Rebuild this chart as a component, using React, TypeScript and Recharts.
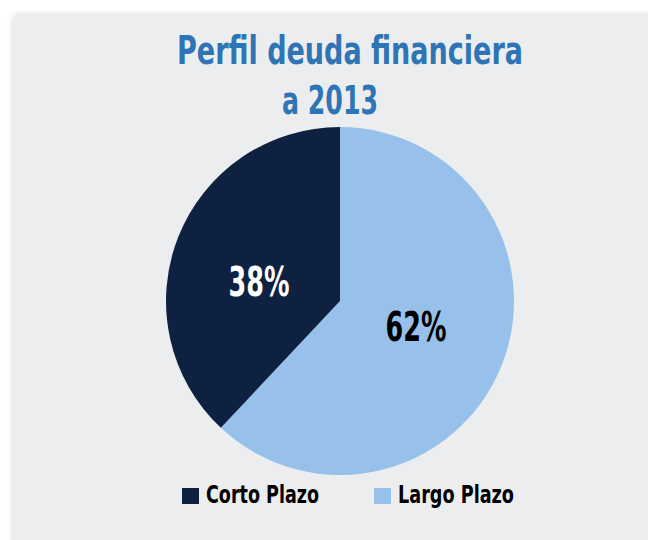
import React from "react";
import { PieChart, Pie, Cell, Legend, Customized } from "recharts";

const categories = ["Largo Plazo", "Corto Plazo"];
const values = [62, 38];
const legendOrder = ["Corto Plazo", "Largo Plazo"];
const titleLines = ["Perfil deuda financiera", "a 2013"];

const COLORS: Record<string, string> = {
  "Largo Plazo": "#97c1ea",
  "Corto Plazo": "#0f2141",
};
const LABEL_COLORS: Record<string, string> = {
  "Largo Plazo": "#000000",
  "Corto Plazo": "#ffffff",
};
const LABEL_NUDGE: Record<string, number> = {
  "Largo Plazo": -5,
  "Corto Plazo": 10,
};

const data = categories.map((name, i) => ({ name, value: values[i] }));

const FONT = "'DejaVu Sans Condensed', 'Liberation Sans Narrow', 'Liberation Sans', sans-serif";
const RAD = Math.PI / 180;

const renderLabel = (props: any) => {
  const { cx, cy, midAngle, outerRadius, index, value } = props;
  const r = outerRadius * 0.47;
  const name = categories[index];
  const x = cx + r * Math.cos(-midAngle * RAD) + (name === "Corto Plazo" ? -5 : 0);
  const y = cy + r * Math.sin(-midAngle * RAD) + LABEL_NUDGE[name];
  return (
    <text
      x={x}
      y={y + 15}
      textAnchor="middle"
      fill={LABEL_COLORS[name]}
      fontFamily={FONT}
      fontWeight="bold"
      fontSize={41}
      textLength={61}
      lengthAdjust="spacingAndGlyphs"
    >
      {`${value}%`}
    </text>
  );
};

const Title = () => (
  <g>
    <text
      x={350}
      y={64}
      textAnchor="middle"
      fill="#2f75b6"
      fontFamily={FONT}
      fontWeight="bold"
      fontSize={39}
      textLength={346}
      lengthAdjust="spacingAndGlyphs"
    >
      {titleLines[0]}
    </text>
    <text
      x={330}
      y={114}
      textAnchor="middle"
      fill="#2f75b6"
      fontFamily={FONT}
      fontWeight="bold"
      fontSize={39}
      textLength={96}
      lengthAdjust="spacingAndGlyphs"
    >
      {titleLines[1]}
    </text>
  </g>
);

const legendX = [182, 374];
const legendTextLen = [113, 116];

const renderLegend = () => (
  <svg width={648} height={40} style={{ display: "block" }}>
    {legendOrder.map((name, i) => (
      <g key={name}>
        <rect x={legendX[i]} y={10} width={17} height={16} fill={COLORS[name]} />
        <text
          x={legendX[i] + 24}
          y={25}
          fill="#000"
          fontFamily={FONT}
          fontWeight="bold"
          fontSize={25}
          textLength={legendTextLen[i]}
          lengthAdjust="spacingAndGlyphs"
        >
          {name}
        </text>
      </g>
    ))}
  </svg>
);

export default function App() {
  return (
    <div
      style={{
        position: "absolute",
        left: 0,
        top: 0,
        width: 648,
        height: 540,
        background: "#ffffff",
        overflow: "hidden",
      }}
    >
      <div
        style={{
          position: "absolute",
          left: 13,
          top: 15,
          width: 640,
          height: 540,
          background: "#ecedef",
          borderRadius: 5,
          boxShadow: "0 0 6px rgba(0,0,0,0.18)",
        }}
      />
      <div style={{ position: "absolute", left: 0, top: 0 }}>
        <PieChart width={648} height={540} margin={{ top: 0, right: 0, bottom: 0, left: 0 }}>
          <Customized component={Title} />
          <Pie
            data={data}
            dataKey="value"
            nameKey="name"
            cx={340}
            cy={301}
            outerRadius={174}
            startAngle={90}
            endAngle={-270}
            stroke="none"
            label={renderLabel}
            labelLine={false}
            isAnimationActive={false}
          >
            {data.map((d) => (
              <Cell key={d.name} fill={COLORS[d.name]} />
            ))}
          </Pie>
          <Legend
            content={renderLegend}
            wrapperStyle={{ position: "absolute", left: 0, top: 478, width: 648, height: 40 }}
          />
        </PieChart>
      </div>
    </div>
  );
}
